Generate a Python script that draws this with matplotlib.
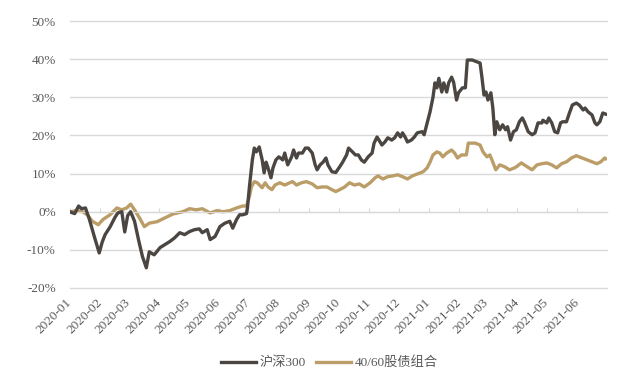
import matplotlib
matplotlib.use("Agg")
import matplotlib.pyplot as plt
import matplotlib.dates as mdates
import matplotlib.ticker as mticker
import pandas as pd

plt.rcParams['font.family'] = ['Liberation Serif', 'Noto Sans CJK SC']

# 沪深300 cumulative return (%), x = days since 2020-01-01
hs_days = [0, 5, 9, 12, 16, 20, 25, 30, 33, 36, 41, 46, 49, 53, 56, 59, 62, 66, 70, 74,
           78, 81, 86, 92, 97, 102, 107, 112, 117, 122, 127, 132, 135, 140, 143, 148, 153, 158, 163, 166,
           170, 173, 176, 180, 181, 183, 186, 188, 190, 193, 196, 198, 200, 202, 205, 207, 210, 213, 217, 219,
           222, 226, 228, 231, 233, 237, 240, 243, 247, 250, 252, 255, 258, 261, 263, 267, 271, 275, 278, 282,
           284, 288, 291, 294, 297, 300, 304, 308, 310, 313, 315, 318, 321, 324, 328, 331, 334, 337, 339, 342,
           344, 348, 351, 354, 359, 361, 364, 367, 370, 372, 374, 376, 379, 381, 384, 386, 389, 391, 394, 396,
           400, 403, 405, 410, 415, 418, 420, 422, 424, 426, 429, 431, 433, 435, 438, 441, 444, 446, 449, 452,
           455, 458, 461, 463, 467, 471, 474, 477, 481, 482, 486, 488, 491, 494, 497, 500, 502, 506, 509, 512,
           516, 519, 523, 525, 528, 532, 535, 537, 540, 543, 546]
hs_vals = [0, -0.5, 1.5, 0.8, 1, -2, -6.5, -10.8, -8, -6, -4, -1.5, -0.3, 0, -5.3, -1, 0, -2.5, -7.3, -11.7,
           -14.7, -10.5, -11.3, -9.4, -8.6, -7.8, -6.8, -5.5, -6, -5.2, -4.7, -4.5, -5.5, -4.7, -7.3, -6.5, -3.9, -3, -2.5, -4.3,
           -2, -0.8, -0.8, -0.5, 1, 6.5, 13.6, 16.7, 15.7, 17, 13.6, 10.2, 13, 11.5, 8.9, 11.5, 13.6, 14.4, 13.6, 15.4,
           12.3, 14.4, 16.2, 14.1, 15.4, 15.4, 16.7, 16.7, 15.4, 12.3, 11, 12.3, 13, 14.1, 12.3, 10.5, 10.3, 11.8, 13, 14.9,
           16.7, 15.7, 14.9, 14.9, 13.6, 13, 14.4, 15.4, 18, 19.6, 18.8, 17.5, 18.3, 19.4, 18.8, 19.4, 20.7, 19.6, 20.7, 19.4,
           18.3, 18.8, 19.6, 20.7, 21, 20.2, 23.2, 26.2, 30, 33.8, 32.5, 35, 31.4, 33.8, 31.4, 33.8, 35.3, 34, 29.3, 31.2,
           32.5, 32.5, 39.8, 39.8, 39.3, 39, 35, 30.6, 31.4, 29.3, 31.2, 27.2, 20.2, 23.6, 21.5, 22.8, 21.5, 22.3, 18.8, 21,
           21.5, 23.6, 24.6, 23.6, 21, 20.2, 20.7, 23.3, 23.3, 24, 23.3, 24.6, 23.3, 21, 20.7, 23.3, 23.6, 23.6, 25.9, 28,
           28.5, 28, 26.7, 27.2, 26.2, 25.4, 23.3, 22.8, 23.6, 25.9, 25.6]

# 40/60股债组合 cumulative return (%)
mix_days = [0, 7, 13, 18, 23, 29, 34, 41, 48, 53, 58, 62, 66, 71, 76, 81, 89, 97, 105, 115,
            122, 129, 135, 143, 150, 156, 163, 170, 176, 180, 183, 185, 188, 191, 196, 199, 202, 206, 209, 214,
            219, 224, 227, 231, 236, 241, 247, 252, 257, 262, 267, 271, 275, 280, 285, 290, 295, 300, 306, 311,
            314, 319, 324, 329, 334, 339, 344, 349, 354, 360, 364, 367, 370, 374, 377, 380, 384, 389, 392, 395,
            399, 404, 406, 413, 418, 421, 425, 428, 431, 434, 438, 443, 448, 453, 455, 460, 466, 471, 476, 481,
            486, 491, 496, 501, 506, 511, 516, 522, 527, 532, 537, 541, 545, 546]
mix_vals = [0, 0.3, 0, -0.8, -2.5, -3.4, -2, -0.8, 1, 0.5, 1, 2, 0.5, -1.6, -3.9, -3, -2.6, -1.6, -0.6, 0,
            0.8, 0.5, 0.8, -0.3, 0.3, 0, 0.3, 1, 1.5, 1.5, 4, 6.5, 7.9, 7.6, 6.3, 7.6, 6.5, 5.8, 7, 7.6,
            7, 7.6, 7.9, 7, 7.6, 7.9, 7.3, 6.3, 6.5, 6.5, 5.8, 5.3, 5.8, 6.5, 7.6, 7, 7.3, 6.5, 7.6, 8.9,
            9.4, 8.6, 9.2, 9.4, 9.7, 9.2, 8.6, 9.4, 9.9, 10.5, 11.5, 13, 14.9, 15.7, 15.4, 14.4, 15.4, 16.2, 15.4, 14.1,
            14.9, 14.9, 18, 18, 17.5, 15.7, 14.4, 14.9, 13, 11, 12.3, 11.8, 11, 11.5, 11.8, 12.8, 11.8, 11, 12.3, 12.6,
            12.8, 12.3, 11.5, 12.6, 13.1, 14.1, 14.7, 14.1, 13.6, 13.1, 12.6, 13.1, 14.1, 13.9]

start = pd.Timestamp('2020-01-01')
hs_dates = start + pd.to_timedelta(hs_days, unit='D')
mix_dates = start + pd.to_timedelta(mix_days, unit='D')
month_ticks = pd.date_range('2020-01-01', '2021-06-01', freq='MS')

fig = plt.figure(figsize=(6.4, 3.84), dpi=100)
ax = fig.add_axes([0.109, 0.25, 0.839, 0.695])

grid_c = '#d9d9d9'
for y in range(-20, 51, 10):
    ax.axhline(y, color=grid_c, lw=1, zorder=0, clip_on=False)

ax.plot(hs_dates, hs_vals, color='#4b4641', lw=2.4, label='沪深300', zorder=3)
ax.plot(mix_dates, mix_vals, color='#bb9d68', lw=2.4, label='40/60股债组合', zorder=2)

ax.set_xlim(pd.Timestamp('2020-01-01'), pd.Timestamp('2021-07-01'))
ax.set_ylim(-20, 50)
ax.set_yticks(range(-20, 51, 10))
ax.yaxis.set_major_formatter(mticker.FuncFormatter(lambda v, p: f'{int(v)}%'))

for s in ['top', 'right', 'left']:
    ax.spines[s].set_visible(False)
ax.spines['bottom'].set_position(('data', 0))
ax.spines['bottom'].set_color(grid_c)

ax.set_xticks(month_ticks)
ax.xaxis.set_major_formatter(mdates.DateFormatter('%Y-%m'))
ax.tick_params(axis='x', direction='in', length=3, color=grid_c, pad=64,
               labelsize=9.5, labelcolor='#595959')
ax.tick_params(axis='y', length=0, pad=10, labelsize=9.5, labelcolor='#595959')
for lab in ax.get_xticklabels():
    lab.set_rotation(45)
    lab.set_ha('right')
    lab.set_va('center')
    lab.set_rotation_mode('anchor')

fig.legend(loc='center', bbox_to_anchor=(0.515, 0.055), ncol=2, frameon=False,
           fontsize=9.5, handlelength=2.6, columnspacing=0.8, handletextpad=0.3,
           labelcolor='#595959')

fig.savefig('out.png', dpi=100)
